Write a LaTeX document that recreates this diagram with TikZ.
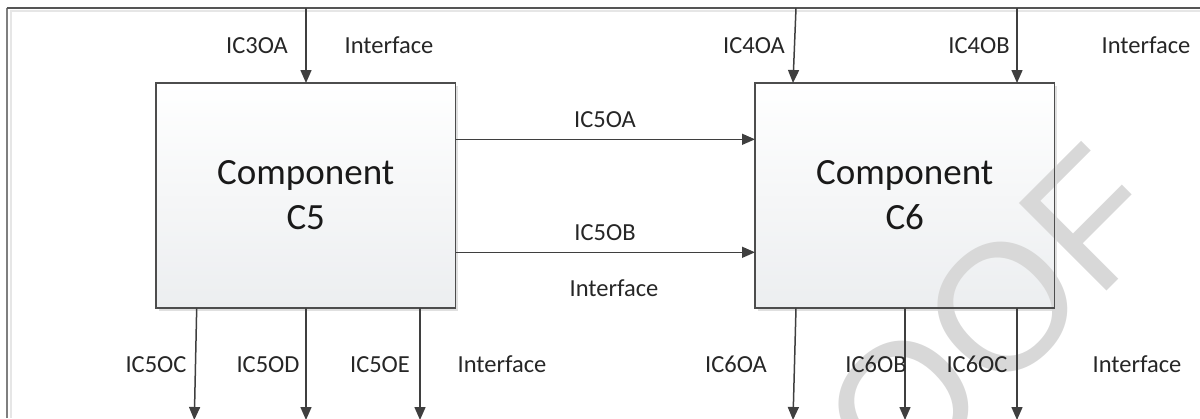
\documentclass[tikz,border=0pt]{standalone}
\usepackage{fontspec}
\setmainfont{Carlito}
\newfontfamily\wmfont{Liberation Sans}
\usetikzlibrary{arrows.meta,shadows,calc}
\definecolor{boxline}{HTML}{4D4D4D}
\definecolor{boxbot}{HTML}{ECEEF0}
\definecolor{arrowcol}{HTML}{3F3F3F}
\definecolor{labeltext}{HTML}{262626}
\definecolor{framedark}{HTML}{555555}
\definecolor{framegray}{HTML}{7F7F7F}
\definecolor{framelight}{HTML}{E6E6E6}
\definecolor{wmgray}{HTML}{D8D8D8}
\begin{document}
\begin{tikzpicture}[x=1pt,y=-1pt,
  comp/.style={draw=boxline, line width=1.5pt, top color=white, bottom color=boxbot,
    minimum width=299.5pt, minimum height=225pt, inner sep=0pt, outer sep=0pt, align=center,
    font=\fontsize{37}{45}\selectfont, text=black!90,
    drop shadow={shadow xshift=2.5pt, shadow yshift=-2.5pt, fill=black!12, opacity=1}},
  edge/.style={draw=boxline, line width=1.5pt},
  lbl/.style={font=\fontsize{24.5}{29}\selectfont, text=labeltext, inner sep=0pt, anchor=base},
  arr/.style={draw=arrowcol, line width=1.5pt, -{Triangle[length=13pt,width=11pt]}},
  wm/.style={font=\wmfont\fontsize{180}{180}\selectfont, text=wmgray, inner sep=0pt}
]
\useasboundingbox (0,0) rectangle (1200,418);

% surrounding frame
\draw[framelight, line width=1.5pt] (11,418) -- (11,11) -- (1200,11);
\draw[framegray, line width=1.5pt] (7,418) -- (7,8);
\draw[framedark, line width=2pt] (6.5,8) -- (1200,8);

% components
\node[comp] (c5) at (305.75,195.5) {Component\\C5};
\node[comp] (c6) at (904.75,195.5) {Component\\C6};

% watermark, under the outlines, connectors and labels
\begin{scope}
\clip (0,0) rectangle (1200,418);
\node[wm, rotate=45, anchor=base west] (proof) at (722,676) {PROOF};
\end{scope}
\draw[edge] (c5.south west) rectangle (c5.north east);
\draw[edge] (c6.south west) rectangle (c6.north east);

% free ends of the interface arrows
\coordinate (t3)  at (306,8);
\coordinate (t4a) at (796,8);
\coordinate (t4b) at (1017,8);
\coordinate (b5c) at (194.3,420);
\coordinate (b5d) at (306,420);
\coordinate (b5e) at (420,420);
\coordinate (b6a) at (793,420);
\coordinate (b6b) at (905,420);
\coordinate (b6c) at (1017,420);

% incoming interfaces
\draw[arr] (t3) -- (c5.north -| t3);
\draw[arr] (t4a) -- ($(c6.north west)+(38,0)$);
\draw[arr] (t4b) -- (c6.north -| t4b);

% C5 -> C6
\draw[arr] ($(c5.north east)+(0,56.3)$) -- ($(c6.north west)+(0,56.3)$);
\draw[arr] ($(c5.north east)+(0,169.3)$) -- ($(c6.north west)+(0,169.3)$);

% outgoing interfaces
\draw[arr] ($(c5.south west)+(40.7,0)$) -- (b5c);
\draw[arr] (c5.south -| b5d) -- (b5d);
\draw[arr] (c5.south -| b5e) -- (b5e);
\draw[arr] ($(c6.south west)+(41,0)$) -- (b6a);
\draw[arr] (c6.south -| b6b) -- (b6b);
\draw[arr] (c6.south -| b6c) -- (b6c);

% labels
\node[lbl] (l3oa)  at (257,53)  {IC3OA};
\node[lbl] (lif1)  at (389,53)  {Interface};
\node[lbl] (l4oa)  at (754,53)  {IC4OA};
\node[lbl] (l4ob)  at (979,53)  {IC4OB};
\node[lbl] (lif2)  at (1146,53) {Interface};
\node[lbl] (l5oa)  at (605,127) {IC5OA};
\node[lbl] (l5ob)  at (605,240) {IC5OB};
\node[lbl] (lif3)  at (614,296) {Interface};
\node[lbl] (l5oc)  at (156,372) {IC5OC};
\node[lbl] (l5od)  at (268,372) {IC5OD};
\node[lbl] (l5oe)  at (380,372) {IC5OE};
\node[lbl] (lif4)  at (502,372) {Interface};
\node[lbl] (l6oa)  at (736,372) {IC6OA};
\node[lbl] (l6ob)  at (876,372) {IC6OB};
\node[lbl] (l6oc)  at (977,372) {IC6OC};
\node[lbl] (lif5)  at (1137,372) {Interface};
\end{tikzpicture}
\end{document}
